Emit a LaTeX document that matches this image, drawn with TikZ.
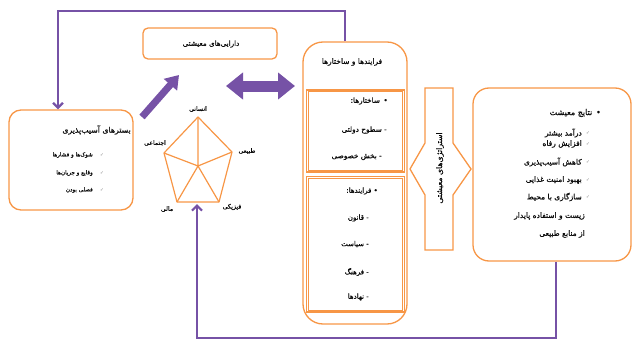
\documentclass[tikz,border=0pt]{standalone}
\usepackage{fontspec}
\TeXXeTstate=1
\newfontfamily\arabicfont[Script=Arabic, FakeBold=0.7]{DejaVu Sans}
\newfontfamily\symfont{DejaVu Sans}
\usetikzlibrary{arrows.meta}
\definecolor{orng}{RGB}{247,150,70}
\definecolor{purp}{RGB}{118,82,166}
\definecolor{txt}{RGB}{10,10,10}
\tikzset{
  box/.style={draw=orng, line width=1.3pt, rounded corners=#1, inner sep=0pt},
  obox/.style={draw=orng, line width=1.7pt, inner sep=0pt},
  ibox/.style={draw=orng, line width=0.9pt},
  fa/.style={font=\arabicfont\fontsize{#1}{#1}\selectfont, inner sep=0pt, text=txt},
  fa/.default=6,
  chk/.style={font=\symfont\fontsize{4.5}{5}\selectfont, inner sep=0pt, text=gray},
  conn/.style={draw=purp, line width=2.2pt},
  barb/.style={-{Straight Barb[length=5pt,width=10pt]}},
  fatarrow/.style={draw=purp, line width=#1},
  pent/.style={draw=orng, line width=1.2pt, line join=round},
}
\begin{document}
\begin{tikzpicture}[x=1pt,y=-1pt]
\useasboundingbox (0,0) rectangle (633,340);

% left box
\node[box=12pt, minimum width=124pt, minimum height=100pt] (left) at (71,160) {};
\node[fa=7.8, anchor=east] (lt) at (131,130) {\beginR بسترهای آسیب‌پذیری\endR};
\node[fa=5.6, anchor=east] (l1) at (93,155) {\beginR شوک‌ها و فشارها\endR};
\node[fa=5.6, anchor=east] (l2) at (93,173) {\beginR وقایع و جریان‌ها\endR};
\node[fa=5.6, anchor=east] (l3) at (93,190) {\beginR فصلی بودن\endR};
\node[chk] (lc1) at (102,155) {✓};
\node[chk] (lc2) at (102,173) {✓};
\node[chk] (lc3) at (102,190) {✓};

% top box
\node[box=5pt, minimum width=134pt, minimum height=31pt] (assets) at (210,43.5) {};
\node[fa=7.2] (at) at (211,44) {\beginR دارایی‌های معیشتی\endR};

% pentagon
\coordinate (pt) at (198,117);
\coordinate (pl) at (164,153);
\coordinate (pr) at (232,152);
\coordinate (pbl) at (177,202);
\coordinate (pbr) at (219,202);
\coordinate (pc) at (198,166);
\draw[pent] (pt) -- (pr) -- (pbr) -- (pbl) -- (pl) -- cycle;
\draw[pent] (pc) -- (pt) (pc) -- (pr) (pc) -- (pbr) (pc) -- (pbl) (pc) -- (pl);
\node[fa=6.2] (h1) at (198,109) {\beginR انسانی\endR};
\node[fa=6.2] (h2) at (155,143) {\beginR اجتماعی\endR};
\node[fa=6.2] (h3) at (247,151) {\beginR طبیعی\endR};
\node[fa=6.2] (h4) at (167,209) {\beginR مالی\endR};
\node[fa=6.2] (h5) at (232,207) {\beginR فیزیکی\endR};
\coordinate (pb) at (197,204);

% thick arrows
\coordinate (d1) at (142,117);
\coordinate (d2) at (179,75);
\draw[fatarrow=7pt, -{Triangle[width=17pt,length=13pt]}, purp] (d1) -- (d2);
\coordinate (e1) at (226,86);
\coordinate (e2) at (295,86);
\draw[fatarrow=11pt, {Triangle[width=26pt,length=17pt]}-{Triangle[width=26pt,length=17pt]}, purp] (e1) -- (e2);

% middle box
\node[box=20pt, minimum width=104pt, minimum height=282pt] (mid) at (355,183) {};
\node[fa=7.5] (mt) at (352,62) {\beginR فرایندها و ساختارها\endR};
\node[obox, minimum width=98pt, minimum height=82pt] (s1) at (355.5,131) {};
\node[obox, minimum width=98pt, minimum height=135.5pt] (s2) at (355.5,244.25) {};
\draw[ibox] ([shift={(2.6pt,-2.6pt)}]s1.north west) rectangle ([shift={(-2.6pt,2.6pt)}]s1.south east);
\draw[ibox] ([shift={(2.6pt,-2.6pt)}]s2.north west) rectangle ([shift={(-2.6pt,2.6pt)}]s2.south east);
\node[fa=7.3, anchor=east] (m1) at (388,101) {\beginR •\, ساختارها:\endR};
\node[fa=7.3, anchor=east] (m2) at (387,130) {\beginR - سطوح دولتی\endR};
\node[fa=7.3, anchor=east] (m3) at (382,157) {\beginR - بخش خصوصی\endR};
\node[fa=7, anchor=east] (m4) at (378,191) {\beginR • فرایندها:\endR};
\node[fa=7, anchor=east] (m5) at (369,218) {\beginR - قانون\endR};
\node[fa=7, anchor=east] (m6) at (369,244) {\beginR - سیاست\endR};
\node[fa=7, anchor=east] (m7) at (369,272) {\beginR - فرهنگ\endR};
\node[fa=7, anchor=east] (m8) at (369,297) {\beginR - نهادها\endR};

% strategies shape
\draw[draw=orng, line width=1.3pt, line join=miter]
  (425,88) -- (453,88) -- (453,143) -- (471,169) -- (453,195) -- (453,250)
  -- (425,250) -- (425,195) -- (410,169) -- (425,143) -- cycle;
\node[fa=7.8, rotate=90] (strat) at (440,168) {\beginR استراتژی‌های معیشتی\endR};

% right box
\node[box=16pt, minimum width=158pt, minimum height=173pt] (right) at (552,174.5) {};
\node[fa=8, anchor=east] (rt) at (601,113) {\beginR •\, نتایج معیشت\endR};
\node[fa=7.5, anchor=east] (r1) at (582,133) {\beginR درآمد بیشتر\endR};
\node[fa=7.5, anchor=east] (r2) at (582,144) {\beginR افزایش رفاه\endR};
\node[fa=7.5, anchor=east] (r3) at (582,162) {\beginR کاهش آسیب‌پذیری\endR};
\node[fa=7.5, anchor=east] (r4) at (582,180) {\beginR بهبود امنیت غذایی\endR};
\node[fa=7.5, anchor=east] (r5) at (582,197) {\beginR سازگاری با محیط\endR};
\node[fa=7.5, anchor=east] (r6) at (585,216) {\beginR زیست و استفاده پایدار\endR};
\node[fa=7.5, anchor=east] (r7) at (585,234) {\beginR از منابع طبیعی\endR};
\node[chk] (rc1) at (588,133) {✓};
\node[chk] (rc2) at (588,144) {✓};
\node[chk] (rc3) at (588,162) {✓};
\node[chk] (rc4) at (588,180) {✓};
\node[chk] (rc5) at (588,197) {✓};

% connectors
\draw[conn, barb] ([xshift=-10pt]mid.north) -- ++(0,-30) -| ([xshift=-13pt]left.north);
\draw[conn, barb] ([xshift=4pt]right.south) -- ++(0,76) -| (pb);
\end{tikzpicture}
\end{document}
